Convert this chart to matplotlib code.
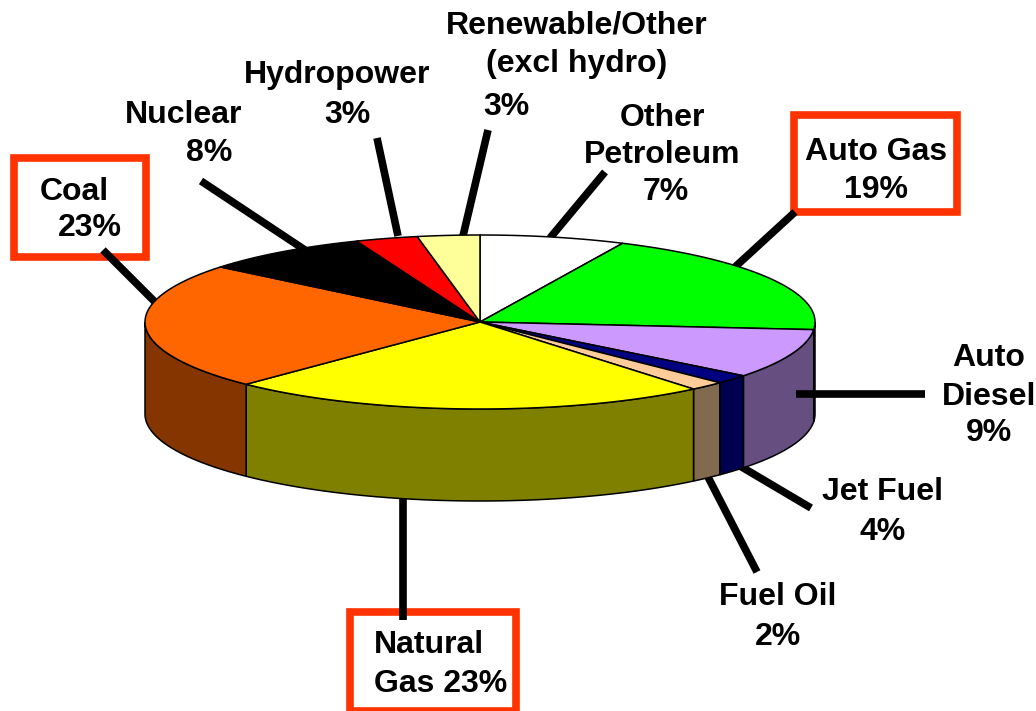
#!/usr/bin/env python3

"""Energy mix shown as a tilted 3D pie."""

import numpy as np
import matplotlib
matplotlib.use('Agg')
import matplotlib.pyplot as plt
from matplotlib.patches import Polygon, Rectangle

plt.rcParams['font.family'] = ['Liberation Sans', 'DejaVu Sans']

# slice shares, clockwise from 12 o'clock
slice_names = ['Other Petroleum', 'Auto Gas', 'Auto Diesel', 'Jet Fuel', 'Fuel Oil',
               'Natural Gas', 'Coal', 'Nuclear', 'Hydropower', 'Renewable/Other']
slice_shares = [7.0, 19.4, 9.2, 1.7, 1.7, 23.3, 23.6, 8.1, 3.0, 3.0]
top_colors = ['#FFFFFF', '#00FF00', '#CC99FF', '#000080', '#FFCC99',
              '#FFFF00', '#FF6600', '#000000', '#FF0000', '#FFFF99']
side_colors = ['#808080', '#008000', '#664F80', '#000050', '#826A4E',
               '#808000', '#843500', '#000000', '#800000', '#80804D']

# label text and where it sits in the picture, one entry per line
label_texts = ['Renewable/Other', '(excl hydro)', '3%',
               'Other', 'Petroleum', '7%',
               'Auto Gas', '19%',
               'Auto', 'Diesel', '9%',
               'Jet Fuel', '4%',
               'Fuel Oil', '2%',
               'Hydropower', '3%',
               'Nuclear', '8%',
               'Coal', '23%']
label_pos = [(577, 25), (577, 64), (506, 107),
             (662, 118), (662, 155), (666, 192),
             (876, 152), (876, 190),
             (989, 358), (989, 397), (989, 433),
             (883, 492), (883, 532),
             (778, 597), (778, 637),
             (337, 75), (347, 115),
             (184, 115), (209, 153),
             (74, 192), (90, 228)]
natural_lines = ['Natural', 'Gas 23%']
natural_pos = [(374, 645), (374, 684)]

# leader lines, outer end to pie edge
leaders = [((103, 250), (155, 302)), ((201, 181), (305, 250)), ((377, 138), (398, 236)),
           ((488, 130), (463, 236)), ((605, 172), (550, 238)), ((795, 212), (735, 267)),
           ((811, 508), (740, 466)), ((757, 572), (708, 477)),
           ((403, 620), (403, 498))]
# this one lies on top of the side wall
diesel_leader = ((925, 394), (796, 394))

# red boxes x0, y0, x1, y1 (centre of the border)
boxes = [(14, 158, 146, 257), (794, 115, 957, 212), (350, 612, 516, 711)]

CX, CY = 480, 322
RX, RY = 335, 87
DEPTH = 92
FS = 23
LEADER_LW = 5.5


def edge(deg):
    """Point on the top ellipse, deg clockwise from 12 o'clock."""
    t = np.radians(deg)
    return CX + RX*np.sin(t), CY - RY*np.cos(t)


fig = plt.figure(figsize=(10.36, 7.11), dpi=100)
ax = fig.add_axes([0, 0, 1, 1])
ax.set_xlim(0, 1036)
ax.set_ylim(711, 0)
ax.axis('off')

edges = np.cumsum([0] + slice_shares)
edges = edges/edges[-1]*360

# boxes and leaders go under the pie
for x0, y0, x1, y1 in boxes:
    ax.add_patch(Rectangle((x0, y0), x1-x0, y1-y0, fill=False, ec='#FF3300', lw=5.5,
                           joinstyle='miter', zorder=1, clip_on=False))
for p0, p1 in leaders:
    ax.plot([p0[0], p1[0]], [p0[1], p1[1]], color='k', lw=LEADER_LW,
            solid_capstyle='butt', zorder=2)
ax.plot([diesel_leader[0][0], diesel_leader[1][0]], [diesel_leader[0][1], diesel_leader[1][1]],
        color='k', lw=LEADER_LW, solid_capstyle='butt', zorder=5)

# side wall, only the front half is visible
for i in range(len(slice_shares)):
    a0, a1 = max(edges[i], 90), min(edges[i+1], 270)
    if a1 <= a0:
        continue
    th = np.linspace(a0, a1, 60)
    x, y = edge(th)
    pts = np.r_[np.c_[x, y], np.c_[x, y + DEPTH][::-1]]
    ax.add_patch(Polygon(pts, fc=side_colors[i], ec='k', lw=1.1, zorder=3))

# top face
for i in range(len(slice_shares)):
    th = np.linspace(edges[i], edges[i+1], 80)
    x, y = edge(th)
    pts = np.r_[[[CX, CY]], np.c_[x, y]]
    ax.add_patch(Polygon(pts, fc=top_colors[i], ec='k', lw=1.1, zorder=4))

for txt, (x, y) in zip(label_texts, label_pos):
    ax.text(x, y, txt, ha='center', va='center', fontsize=FS, fontweight='bold', zorder=6)
for txt, (x, y) in zip(natural_lines, natural_pos):
    ax.text(x, y, txt, ha='left', va='center', fontsize=FS, fontweight='bold', zorder=6)

fig.savefig('out.png', dpi=100)
